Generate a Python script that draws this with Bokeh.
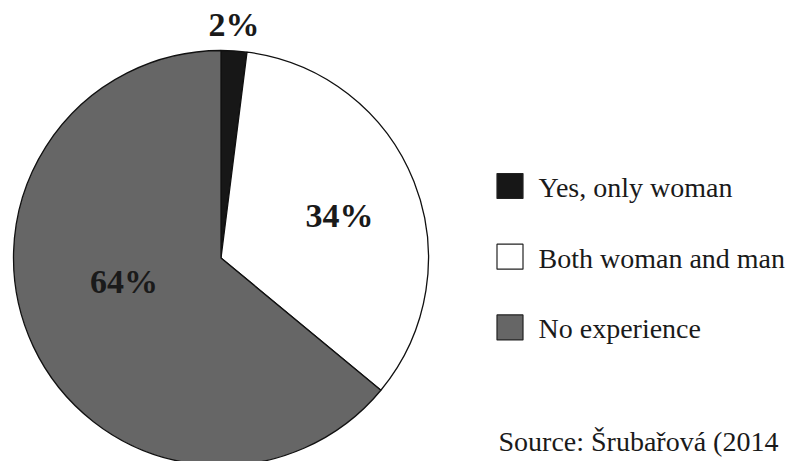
import numpy as np
from bokeh.plotting import figure
from bokeh.models import ColumnDataSource, Range1d
from bokeh.core.properties import value
from bokeh.embed import file_html
from bokeh.resources import INLINE

# ---- data ----
categories = ["Yes, only woman", "Both woman and man", "No experience"]
shares = [2, 34, 64]
pct_labels = ["2%", "34%", "64%"]
source_note = "Source: Šrubařová (2014"

# ---- style / layout ----
colors = ["#171717", "#ffffff", "#666666"]
W, H = 786, 461
FONT = "Liberation Serif"

def px(X, Y):
    # reference picture pixel -> figure data coords
    return X, H - Y

cx, cy = px(220.5, 257.5)
R = 207.5

p = figure(width=W, height=H, output_backend="svg", toolbar_location=None,
           x_range=Range1d(0, W), y_range=Range1d(0, H), min_border=0)
p.axis.visible = False
p.grid.visible = False
p.outline_line_color = None
p.background_fill_color = "white"
p.border_fill_color = "white"

vals = np.array(shares, dtype=float)
frac = vals / vals.sum()
cum_end = np.cumsum(frac)
cum_start = cum_end - frac
start = np.pi / 2 - 2 * np.pi * cum_end
end = np.pi / 2 - 2 * np.pi * cum_start

src = ColumnDataSource(dict(start=start, end=end, color=colors, cat=categories))
p.wedge(x=cx, y=cy, radius=R, radius_units="screen", start_angle="start", end_angle="end",
        fill_color="color", line_color="#111111", line_width=1.3, source=src)

# percentage labels
label_page = [(233.5, 24.0), (339.0, 215.0), (123.5, 281.0)]
lx = [px(a, b)[0] for a, b in label_page]
ly = [px(a, b)[1] for a, b in label_page]
p.text(x=lx, y=ly, text=pct_labels, text_font=value(FONT), text_font_style="bold",
       text_font_size="34px", text_align="center", text_baseline="middle", text_color="#1a1a1a")

# legend
leg_x_sq, leg_y0 = px(509.5, 185.5)
leg_dy = 70.7
leg_y = [leg_y0 - i * leg_dy for i in range(len(categories))]
p.rect(x=[leg_x_sq] * 3, y=leg_y, width=26, height=25, width_units="screen", height_units="screen",
       fill_color=colors, line_color="#222222", line_width=1.2)
tx = px(538, 0)[0]
p.text(x=[tx] * 3, y=[yy - 1.5 for yy in leg_y], text=categories, text_font=value(FONT),
       text_font_size="28px", text_align="left", text_baseline="alphabetic", text_color="#1a1a1a")

sx, sy = px(498, 441.0)
p.text(x=[sx], y=[sy], text=[source_note], text_font=value(FONT), text_font_size="28px",
       text_align="left", text_baseline="alphabetic", text_color="#1a1a1a")

open("out.html", "w").write(file_html(p, INLINE))
